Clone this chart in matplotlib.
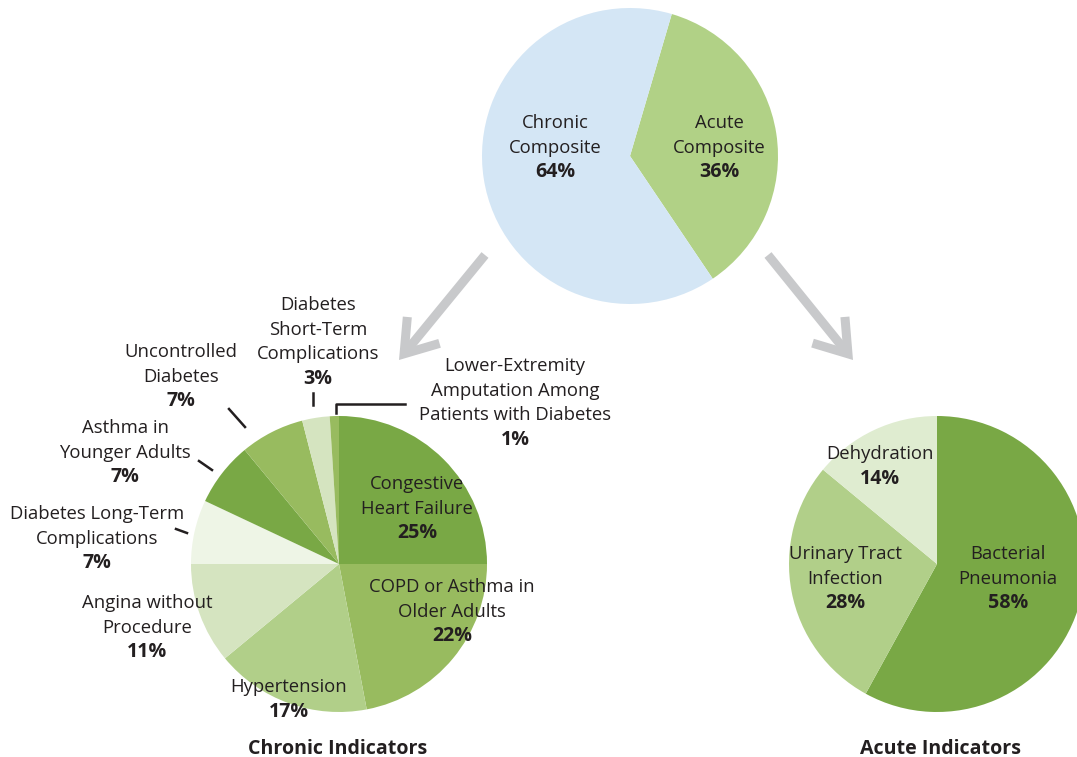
import matplotlib.pyplot as plt

plt.rcParams['font.family'] = ['Open Sans', 'DejaVu Sans']

# top pie
comp_names = ['Acute\nComposite', 'Chronic\nComposite']
comp_vals = [36, 64]
comp_colors = ['#b1d186', '#d4e6f5']

# chronic pie, clockwise from top
chronic_names = ['Congestive\nHeart Failure', 'COPD or Asthma in\nOlder Adults', 'Hypertension',
                 'Angina without\nProcedure', 'Diabetes Long-Term\nComplications',
                 'Asthma in\nYounger Adults', 'Uncontrolled\nDiabetes',
                 'Diabetes\nShort-Term\nComplications',
                 'Lower-Extremity\nAmputation Among\nPatients with Diabetes']
chronic_vals = [25, 22, 17, 11, 7, 7, 7, 3, 1]
chronic_colors = ['#79a845', '#98bb5f', '#b1cf89', '#d5e4c0', '#eef5e6',
                  '#79a845', '#98bb5f', '#d5e4c0', '#98bb5f']

# acute pie, clockwise from top
acute_names = ['Bacterial\nPneumonia', 'Urinary Tract\nInfection', 'Dehydration']
acute_vals = [58, 28, 14]
acute_colors = ['#79a845', '#b1cf89', '#dfecd0']

W, H = 1077, 757
TXT = '#231f20'
LS = 24.6
FS = 13.3


def Y(y):
    return H - y


def label(x, y, name, pct):
    y = y + 2
    lines = name.split('\n')
    for i, ln in enumerate(lines):
        ax.text(x, Y(y + i * LS), ln, ha='center', va='center', fontsize=FS, color=TXT)
    ax.text(x, Y(y + len(lines) * LS), '%d%%' % pct, ha='center', va='center',
            fontsize=FS + 0.8, fontweight='bold', color=TXT)


fig = plt.figure(figsize=(W / 100, H / 100), dpi=100)
ax = fig.add_axes([0, 0, 1, 1])

ax.pie(comp_vals, colors=comp_colors, startangle=73.6, counterclock=False,
       center=(630, Y(156)), radius=148, wedgeprops=dict(linewidth=0))
ax.pie(chronic_vals, colors=chronic_colors, startangle=90, counterclock=False,
       center=(339, Y(564)), radius=148, wedgeprops=dict(linewidth=0))
ax.pie(acute_vals, colors=acute_colors, startangle=90, counterclock=False,
       center=(937, Y(564)), radius=148, wedgeprops=dict(linewidth=0))

# labels
label(719, 121, comp_names[0], comp_vals[0])
label(555, 121, comp_names[1], comp_vals[1])

chronic_pos = [(417, 482), (452, 585), (289, 685), (147, 601), (97, 512),
               (125, 426), (181, 350), (318, 303), (515, 364)]
for (x, y), n, v in zip(chronic_pos, chronic_names, chronic_vals):
    label(x, y, n, v)

acute_pos = [(1008, 552), (845, 552), (880, 452)]
for (x, y), n, v in zip(acute_pos, acute_names, acute_vals):
    label(x, y, n, v)

# leader lines
lc = dict(color=TXT, lw=1.8)
ax.plot([336, 336, 405], [Y(413), Y(404), Y(404)], **lc)
ax.plot([313, 313], [Y(393), Y(405)], **lc)
ax.plot([229, 245], [Y(409), Y(427)], **lc)
ax.plot([199, 212], [Y(461), Y(470)], **lc)
ax.plot([176, 187], [Y(529), Y(533)], **lc)

# arrows
ap = dict(arrowstyle='->,head_length=1.1,head_width=0.75', lw=6.5, color='#c8c9cb',
          shrinkA=0, shrinkB=0, mutation_scale=20, capstyle='butt', joinstyle='miter')
ax.annotate('', xy=(399, Y(360)), xytext=(485, Y(255)), arrowprops=ap)
ax.annotate('', xy=(853, Y(360)), xytext=(768, Y(255)), arrowprops=ap)

ax.text(338, Y(749), 'Chronic Indicators', ha='center', va='center', fontsize=FS + 0.8,
        fontweight='bold', color=TXT)
ax.text(940, Y(749), 'Acute Indicators', ha='center', va='center', fontsize=FS + 0.8,
        fontweight='bold', color=TXT)

ax.set_xlim(0, W)
ax.set_ylim(0, H)
ax.set_aspect('equal')
ax.axis('off')
fig.savefig('out.png', dpi=100)
